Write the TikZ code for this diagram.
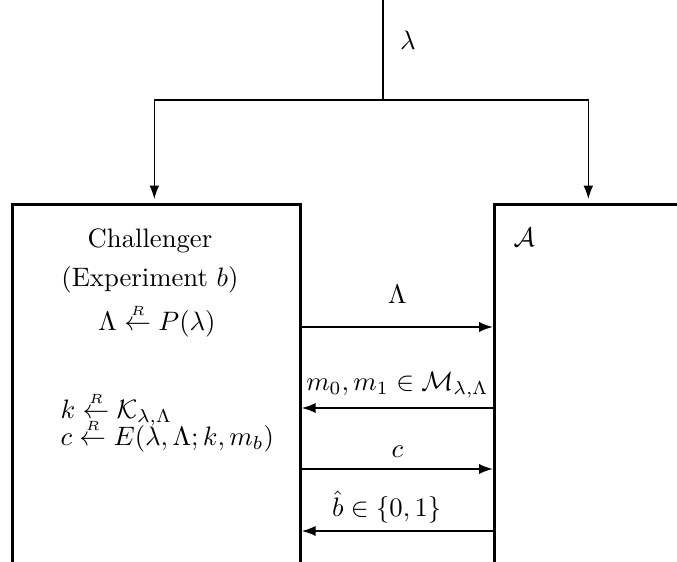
\documentclass[tikz,border=0pt]{standalone}
\usetikzlibrary{arrows.meta, positioning}
\newcommand{\rndget}{\stackrel{\scriptscriptstyle R}{\leftarrow}}

\begin{document}
\begin{tikzpicture}[x=0.375pt, y=-0.375pt,
  box/.style={draw, line width=1pt, rectangle, minimum height=134.6pt},
  msg/.style={-{Latex[length=5.2pt,width=3.8pt]}, line width=0.7pt},
  feed/.style={-{Latex[length=5pt,width=3.6pt]}, line width=0.4pt, shorten >=1.5pt},
  lbl/.style={inner sep=0pt}]
  \useasboundingbox (0,0) rectangle (677,562);
  % the two parties
  \node[box, minimum width=108pt, anchor=north west](chal) at (11,203) {};
  \node[box, minimum width=70.5pt, anchor=north west](adv) at (493,203) {};
  \node[lbl, anchor=base](title) at (150,248) {Challenger};
  \node[lbl, anchor=base](exp) at (150,287) {(Experiment $b$)};
  \node[lbl, anchor=base](pick) at (157,331) {$\Lambda \rndget P(\lambda)$};
  \node[lbl, anchor=base west](keygen) at (60,419) {$k \rndget \mathcal{K}_{\lambda,\Lambda}$};
  \node[lbl, anchor=base west](enc) at (60,446) {$c \rndget E(\lambda,\Lambda;k,m_b)$};
  \node[lbl, anchor=base west](advname) at (513,247) {$\mathcal{A}$};

  % security parameter fed to both
  \coordinate (src) at (383,0);
  \coordinate (split) at (383,100);
  \node[lbl](sec) at (408,40) {$\lambda$};
  \draw[line width=0.4pt] (src) -- (split);
  \draw[feed] (split) -| ([xshift=-0.75pt]chal.north);
  \draw[feed] (split) -| (adv.north);

  % messages
  \coordinate (r1) at (0,327);
  \coordinate (r2) at (0,408);
  \coordinate (r3) at (0,469);
  \coordinate (r4) at (0,531);
  \draw[msg](chal.east |- r1)--node[lbl, above=8.6pt]{$\Lambda$}(adv.west |- r1);
  \draw[msg](adv.west |- r2)--node[lbl, above=3.5pt]{$m_0, m_1 \in \mathcal{M}_{\lambda,\Lambda}$}(chal.east |- r2);
  \draw[msg](chal.east |- r3)--node[lbl, above=4pt]{$c$}(adv.west |- r3);
  \draw[msg](adv.west |- r4)--node[lbl, above=2.5pt, xshift=-4pt]{$\hat{b} \in \{0,1\}$}(chal.east |- r4);
\end{tikzpicture}
\end{document}
